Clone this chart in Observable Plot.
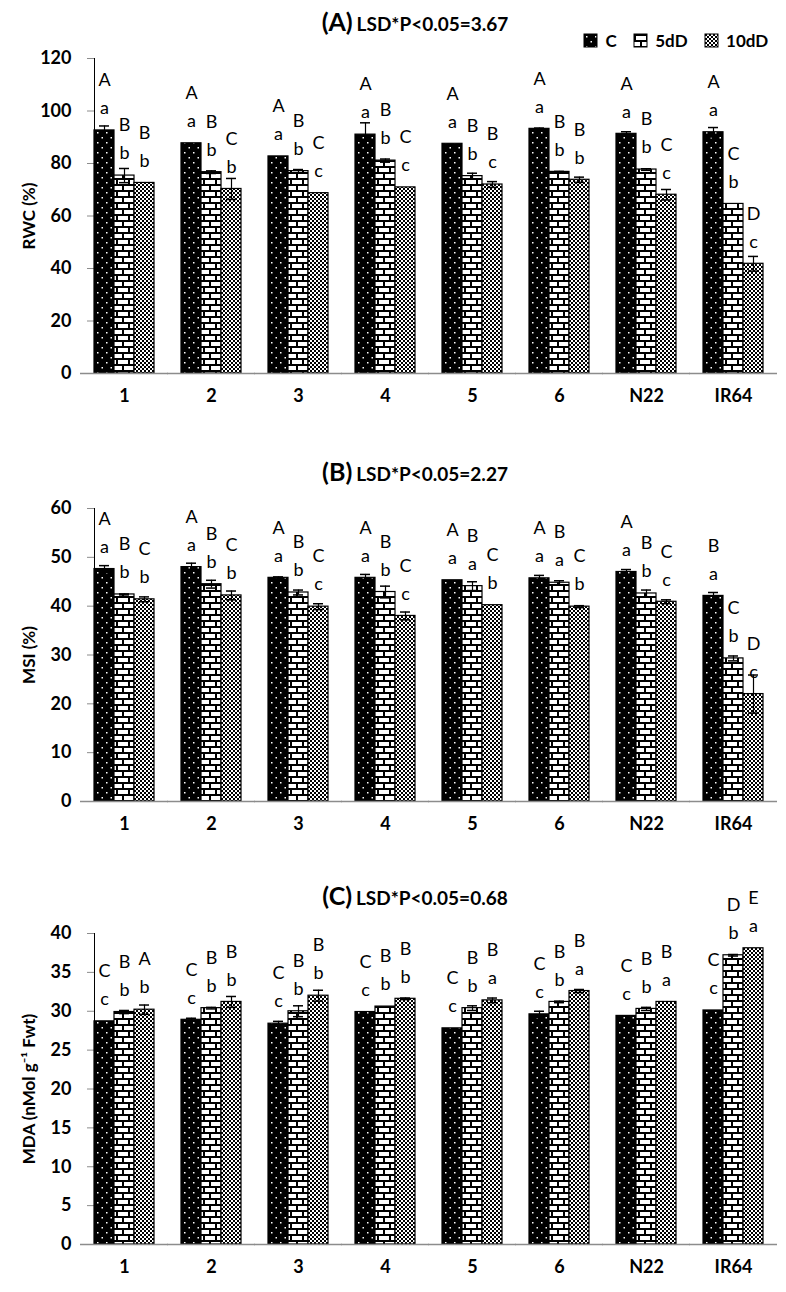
<!DOCTYPE html>
<html><head><meta charset="utf-8">
<script src="https://cdn.jsdelivr.net/npm/d3@7"></script>
<script src="https://cdn.jsdelivr.net/npm/@observablehq/plot@0.6"></script>
<style>
body{margin:0;background:#fff;font-family:Lato,"Open Sans",sans-serif;}
#wrap{position:relative;width:786px;height:1292px;overflow:hidden;}
.panel{position:absolute;left:0;}
.title{position:absolute;left:0;width:830px;text-align:center;font-weight:bold;color:#000;white-space:nowrap;}
.title .big{font-size:25px;}
.title .small{font-size:19px;}
.leg{position:absolute !important;left:584px;top:24px;width:200px;flex-wrap:nowrap !important;white-space:nowrap;}
.leg svg rect{stroke:#000;stroke-width:1;}
svg g[aria-label^="y-axis"] path, svg g[aria-label^="y-axis"] line{stroke:#8c8c8c;}
svg g[aria-label="y-axis label"]{font-size:17px;}
</style></head>
<body>
<svg width="0" height="0" style="position:absolute">
 <defs>
  <pattern id="pC" patternUnits="userSpaceOnUse" width="9" height="10">
   <rect width="9" height="10" fill="#000"/>
   <rect x="2" y="2" width="1.5" height="1.5" fill="#fff"/>
   <rect x="6.5" y="7" width="1.5" height="1.5" fill="#fff"/>
  </pattern>
  <pattern id="p5" patternUnits="userSpaceOnUse" width="12" height="12">
   <rect width="12" height="12" fill="#fff"/>
   <rect x="0" y="0" width="12" height="2" fill="#000"/>
   <rect x="0" y="6" width="12" height="2" fill="#000"/>
   <rect x="0" y="0" width="2" height="6" fill="#000"/>
   <rect x="6" y="6" width="2" height="6" fill="#000"/>
  </pattern>
  <pattern id="p10" patternUnits="userSpaceOnUse" width="4" height="4">
   <rect width="4" height="4" fill="#fff"/>
   <rect x="0" y="0" width="2" height="2" fill="#000"/>
   <rect x="2" y="2" width="2" height="2" fill="#000"/>
  </pattern>
 </defs>
</svg>
<div id="wrap"></div>
<script>
// ---- categories ----
const genotypes = ["1", "2", "3", "4", "5", "6", "N22", "IR64"];
const treatments = ["C", "5dD", "10dD"];
const patterns = ["url(#pC)", "url(#p5)", "url(#p10)"];

// ---- (A) RWC (%) ----
const rwcC   = [92.6, 87.7, 82.7, 91.0, 87.5, 93.2, 91.3, 91.9];
const rwc5   = [75.4, 76.7, 77.1, 81.1, 75.2, 76.8, 77.7, 64.6];
const rwc10  = [72.6, 70.3, 68.7, 70.9, 72.0, 73.8, 68.1, 41.8];
const rwcErrC  = [1.7, 0, 0, 4.5, 0, 0.3, 0.8, 1.8];
const rwcErr5  = [2.7, 0.5, 0.6, 0.6, 1.1, 0.2, 0.3, 0];
const rwcErr10 = [0, 4.0, 0, 0, 1.1, 1.0, 2.0, 2.8];
const rwcUpC  = ["A", "A", "A", "A", "A", "A", "A", "A"];
const rwcUp5  = ["B", "B", "B", "B", "B", "B", "B", "C"];
const rwcUp10 = ["B", "C", "C", "C", "B", "B", "C", "D"];
const rwcLoC  = ["a", "a", "a", "a", "a", "a", "a", "a"];
const rwcLo5  = ["b", "b", "b", "b", "b", "b", "b", "b"];
const rwcLo10 = ["b", "b", "c", "c", "c", "b", "c", "c"];

// ---- (B) MSI (%) ----
const msiC   = [47.6, 48.0, 45.8, 45.8, 45.3, 45.7, 47.0, 42.1];
const msi5   = [42.4, 44.5, 42.8, 42.9, 44.1, 44.8, 42.6, 29.3];
const msi10  = [41.4, 42.2, 39.9, 38.0, 40.2, 39.9, 40.9, 22.0];
const msiErrC  = [0.7, 0.8, 0.2, 0.7, 0, 0.6, 0.5, 0.7];
const msiErr5  = [0.1, 0.8, 0.5, 1.2, 0.9, 0.4, 0.7, 0.5];
const msiErr10 = [0.5, 0.9, 0.6, 0.8, 0, 0.2, 0.4, 3.9];
const msiUpC  = ["A", "A", "A", "A", "A", "A", "A", "B"];
const msiUp5  = ["B", "B", "B", "B", "B", "B", "B", "C"];
const msiUp10 = ["C", "C", "C", "C", "C", "C", "C", "D"];
const msiLoC  = ["a", "a", "a", "a", "a", "a", "a", "a"];
const msiLo5  = ["b", "b", "b", "b", "a", "a", "b", "b"];
const msiLo10 = ["b", "b", "c", "c", "b", "b", "c", "c"];

// ---- (C) MDA (nMol g-1 Fwt) ----
const mdaC   = [28.7, 28.9, 28.4, 29.9, 27.8, 29.6, 29.4, 30.1];
const mda5   = [29.9, 30.4, 30.0, 30.6, 30.4, 31.2, 30.3, 37.2];
const mda10  = [30.2, 31.2, 32.0, 31.6, 31.4, 32.6, 31.2, 38.1];
const mdaErrC  = [0, 0.2, 0.3, 0, 0, 0.4, 0, 0];
const mdaErr5  = [0.2, 0.1, 0.7, 0, 0.3, 0.1, 0.2, 0.1];
const mdaErr10 = [0.6, 0.7, 0.7, 0.1, 0.3, 0.2, 0, 0];
const mdaUpC  = ["C", "C", "C", "C", "C", "C", "C", "C"];
const mdaUp5  = ["B", "B", "B", "B", "B", "B", "B", "D"];
const mdaUp10 = ["A", "B", "B", "B", "B", "B", "B", "E"];
const mdaLoC  = ["c", "c", "c", "c", "c", "c", "c", "c"];
const mdaLo5  = ["b", "b", "b", "b", "b", "b", "b", "b"];
const mdaLo10 = ["b", "b", "b", "b", "a", "a", "a", "a"];

function rows(vals, errs, ups, los) {
  const out = [];
  genotypes.forEach((g, i) => {
    treatments.forEach((t, j) => {
      out.push({g, t, v: vals[j][i], e: errs[j][i], up: ups[j][i], lo: los[j][i]});
    });
  });
  return out;
}

function chart({data, yMax, yStep, yLabel, height, marginTop}) {
  return Plot.plot({
    width: 786,
    height,
    marginLeft: 80,
    marginRight: 8,
    marginTop,
    marginBottom: 40,
    style: {fontFamily: "Lato, 'Open Sans', sans-serif", fontSize: "18px", fontWeight: "bold", color: "#000", background: "none", overflow: "visible"},
    fx: {domain: genotypes, paddingInner: 0.31, paddingOuter: 0.155, axis: "bottom", tickSize: 0, tickPadding: 16, label: null},
    x: {domain: treatments, padding: 0, axis: null},
    y: {domain: [0, yMax], ticks: d3.range(0, yMax + 0.001, yStep), tickSize: 7, tickPadding: 16, label: yLabel, labelAnchor: "center", labelOffset: 72, labelArrow: false, line: true},
    color: {type: "ordinal", domain: treatments, range: patterns},
    marks: [
      Plot.barY(data, {fx: "g", x: "t", y: "v", fill: "t", stroke: "#000", strokeWidth: 1.2}),
      Plot.ruleX(data.filter(d => d.e > 0), {fx: "g", x: "t", y1: d => d.v - d.e, y2: d => d.v + d.e, stroke: "#000", strokeWidth: 1.2}),
      Plot.tickY(data.filter(d => d.e > 0), {fx: "g", x: "t", y: d => d.v + d.e, stroke: "#000", strokeWidth: 1.5, inset: 5}),
      Plot.tickY(data.filter(d => d.e > 0), {fx: "g", x: "t", y: d => d.v - d.e, stroke: "#000", strokeWidth: 1.5, inset: 5}),
      Plot.text(data, {fx: "g", x: "t", y: "v", text: "lo", dy: -22, fontSize: 18, fontWeight: "normal", fill: "#000"}),
      Plot.text(data, {fx: "g", x: "t", y: "v", text: "up", dy: -50, fontSize: 18, fontWeight: "normal", fill: "#000"}),
      Plot.ruleY([0], {stroke: "#8c8c8c", strokeWidth: 1.5, insetLeft: -14, insetRight: -14})
    ]
  });
}

const wrap = document.getElementById("wrap");
function place(el, top) {
  el.classList.add("panel");
  el.style.top = top + "px";
  wrap.appendChild(el);
}
function title(letter, text, top) {
  const d = document.createElement("div");
  d.className = "title";
  d.style.top = top + "px";
  d.innerHTML = `<span class="big">(${letter})</span> <span class="small">${text}</span>`;
  wrap.appendChild(d);
}

place(chart({
  data: rows([rwcC, rwc5, rwc10], [rwcErrC, rwcErr5, rwcErr10], [rwcUpC, rwcUp5, rwcUp10], [rwcLoC, rwcLo5, rwcLo10]),
  yMax: 120, yStep: 20, yLabel: "RWC (%)", height: 373, marginTop: 18
}), 40);
place(chart({
  data: rows([msiC, msi5, msi10], [msiErrC, msiErr5, msiErr10], [msiUpC, msiUp5, msiUp10], [msiLoC, msiLo5, msiLo10]),
  yMax: 60, yStep: 10, yLabel: "MSI (%)", height: 371, marginTop: 38
}), 470);
place(chart({
  data: rows([mdaC, mda5, mda10], [mdaErrC, mdaErr5, mdaErr10], [mdaUpC, mdaUp5, mdaUp10], [mdaLoC, mdaLo5, mdaLo10]),
  yMax: 40, yStep: 5, yLabel: "MDA (nMol g\u207B\u00B9 Fwt)", height: 404, marginTop: 53
}), 880);

title("A", "LSD*P&lt;0.05=3.67", 6);
title("B", "LSD*P&lt;0.05=2.27", 456);
title("C", "LSD*P&lt;0.05=0.68", 880);

const leg = Plot.legend({
  color: {type: "ordinal", domain: treatments, range: patterns},
  legend: "swatches",
  swatchSize: 13,
  style: {fontFamily: "Lato, sans-serif", fontSize: "17px", fontWeight: "bold", color: "#000"}
});
leg.classList.add("leg");
wrap.appendChild(leg);
</script>
</body></html>
